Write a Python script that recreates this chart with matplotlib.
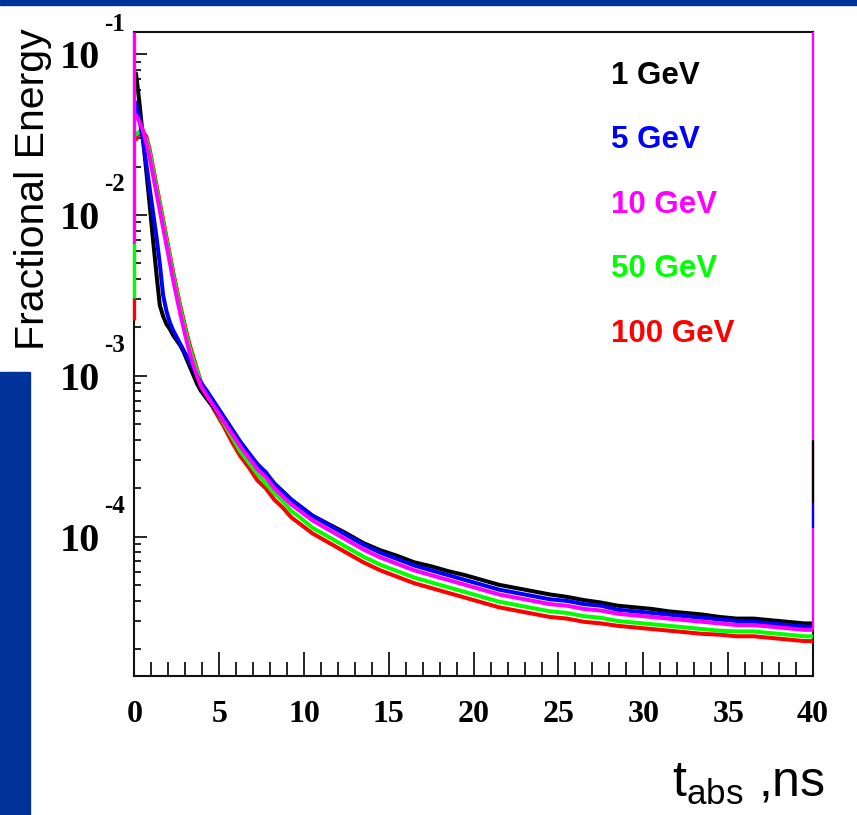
# Fractional energy vs absorption time, fine-binned histograms for 5 beam energies
import numpy as np
import matplotlib
matplotlib.use("Agg")
import matplotlib.pyplot as plt
from matplotlib.patches import Rectangle
from matplotlib.ticker import FixedLocator, LogLocator, NullFormatter

# ---------- data (log10 of fractional energy, read at bin centres) ----------
# bins: 0.2 ns up to 4 ns, 0.5 ns up to 10 ns, 1 ns up to 40 ns
edges = np.concatenate([np.arange(0, 4.0, 0.2), np.arange(4.0, 10.0, 0.5), np.arange(10, 41, 1.0)])
centres = (edges[:-1] + edges[1:]) / 2

labels = ["1 GeV", "5 GeV", "10 GeV", "50 GeV", "100 GeV"]
colors = ["#000000", "#0000ff", "#ff00ff", "#00ff00", "#ff0000"]

log_1gev = [
    -1.12, -1.30, -1.51, -1.72, -1.93, -2.15, -2.36, -2.56, -2.63, -2.68,
    -2.71, -2.75, -2.78, -2.81, -2.85, -2.90, -2.95, -3.00, -3.05, -3.09,
    -3.14, -3.21, -3.28, -3.35, -3.42, -3.49, -3.55, -3.61, -3.67, -3.72, -3.77, -3.81,
    -3.87, -3.925, -3.98, -4.04, -4.085, -4.12, -4.16, -4.185, -4.215, -4.24,
    -4.27, -4.30, -4.32, -4.34, -4.36, -4.375, -4.395, -4.41, -4.43, -4.44,
    -4.45, -4.465, -4.475, -4.485, -4.50, -4.51, -4.51, -4.52, -4.53, -4.54,
]
log_5gev = [
    -1.30, -1.40, -1.53, -1.68, -1.83, -1.98, -2.13, -2.30, -2.50, -2.60,
    -2.67, -2.72, -2.76, -2.80, -2.84, -2.88, -2.92, -2.96, -3.00, -3.04,
    -3.09, -3.17, -3.25, -3.33, -3.41, -3.48, -3.55, -3.60, -3.67, -3.72, -3.77, -3.81,
    -3.87, -3.93, -3.99, -4.05, -4.10, -4.14, -4.18, -4.21, -4.24, -4.27,
    -4.30, -4.33, -4.35, -4.37, -4.39, -4.40, -4.42, -4.43, -4.455, -4.465,
    -4.475, -4.485, -4.495, -4.505, -4.515, -4.525, -4.53, -4.54, -4.55, -4.56,
]
log_10gev = [
    -1.38, -1.42, -1.47, -1.55, -1.64, -1.75, -1.86, -1.97, -2.08, -2.19,
    -2.30, -2.41, -2.51, -2.61, -2.70, -2.79, -2.87, -2.94, -3.00, -3.06,
    -3.12, -3.20, -3.28, -3.36, -3.44, -3.51, -3.58, -3.63, -3.70, -3.75, -3.80, -3.84,
    -3.90, -3.96, -4.02, -4.08, -4.13, -4.17, -4.21, -4.24, -4.27, -4.30,
    -4.33, -4.36, -4.38, -4.40, -4.42, -4.43, -4.45, -4.46, -4.48, -4.49,
    -4.50, -4.51, -4.52, -4.53, -4.54, -4.55, -4.55, -4.56, -4.57, -4.58,
]
log_50gev = [
    -1.50, -1.48, -1.49, -1.53, -1.61, -1.72, -1.83, -1.94, -2.05, -2.16,
    -2.27, -2.38, -2.48, -2.58, -2.67, -2.76, -2.84, -2.91, -2.97, -3.04,
    -3.11, -3.21, -3.29, -3.38, -3.47, -3.54, -3.61, -3.67, -3.73, -3.78, -3.84, -3.88,
    -3.945, -4.005, -4.065, -4.125, -4.175, -4.215, -4.255, -4.285, -4.315, -4.345,
    -4.375, -4.405, -4.425, -4.445, -4.465, -4.475, -4.495, -4.505, -4.525, -4.535,
    -4.545, -4.555, -4.565, -4.575, -4.585, -4.59, -4.59, -4.60, -4.61, -4.62,
]
log_100gev = [
    -1.53, -1.49, -1.48, -1.51, -1.59, -1.70, -1.81, -1.92, -2.03, -2.14,
    -2.25, -2.36, -2.46, -2.56, -2.65, -2.74, -2.82, -2.89, -2.96, -3.03,
    -3.11, -3.22, -3.31, -3.41, -3.50, -3.57, -3.65, -3.70, -3.77, -3.82, -3.88, -3.92,
    -3.98, -4.04, -4.10, -4.16, -4.21, -4.25, -4.29, -4.32, -4.35, -4.38,
    -4.41, -4.44, -4.46, -4.48, -4.50, -4.51, -4.53, -4.54, -4.555, -4.565,
    -4.575, -4.585, -4.595, -4.605, -4.61, -4.62, -4.62, -4.63, -4.64, -4.65,
]
series = [log_1gev, log_5gev, log_10gev, log_50gev, log_100gev]

# visible vertical edge pieces of the histograms (log10 low, log10 high)
left_edge_10gev = (-2.174, -0.862)
left_edge_50gev = (-2.516, -2.174)
left_edge_100gev = (-2.653, -2.516)
right_edge_10gev = (-4.58, -0.862)
right_edge_5gev = (-3.946, -3.791)
right_edge_1gev = (-3.791, -3.399)

Y_MIN, Y_MAX = 10 ** -4.867, 10 ** -0.862
PX = 0.72  # points per pixel at dpi 100
SERIF = ["Liberation Serif", "DejaVu Serif"]
SANS = ["Liberation Sans", "DejaVu Sans"]

fig = plt.figure(figsize=(8.57, 8.15), dpi=100)
fig.patch.set_facecolor("white")

# slide decoration
fig.patches.append(Rectangle((0, 1 - 5 / 815), 1, 5 / 815, transform=fig.transFigure,
                             color="#003399", zorder=0))
fig.patches.append(Rectangle((0, 0), 30 / 857, 1 - 372 / 815, transform=fig.transFigure,
                             color="#003399", zorder=0))

ax = fig.add_axes([134.3 / 857, 139 / 815, (813 - 134.3) / 857, (676 - 32) / 815])
ax.set_yscale("log")
ax.set_xlim(0, 40)
ax.set_ylim(Y_MIN, Y_MAX)

# draw order (bottom to top): red, green, black, blue, magenta
for k, i in enumerate([4, 3, 0, 1, 2]):
    vals = 10 ** np.array(series[i])
    x = np.concatenate([[edges[0]], centres, [edges[-1]]])
    y = np.concatenate([[vals[0]], vals, [vals[-1]]])
    ax.plot(x, y, color=colors[i], lw=2.9, solid_joinstyle="round", solid_capstyle="butt",
            zorder=3 + k * 0.1)

for (lo, hi), c in [(left_edge_100gev, colors[4]), (left_edge_50gev, colors[3]), (left_edge_10gev, colors[2])]:
    ax.vlines(0, 10 ** lo, 10 ** hi, color=c, lw=2.4, clip_on=False, zorder=5)
for (lo, hi), c in [(right_edge_10gev, colors[2]), (right_edge_5gev, colors[1]), (right_edge_1gev, colors[0])]:
    ax.vlines(40, 10 ** lo, 10 ** hi, color=c, lw=1.6, clip_on=False, zorder=5)

for s in ax.spines.values():
    s.set_linewidth(1.5)
    s.set_color("#111111")

# ticks, ROOT style: inward
ax.xaxis.set_major_locator(FixedLocator(range(0, 41, 5)))
ax.xaxis.set_minor_locator(FixedLocator(range(0, 41, 1)))
ax.yaxis.set_minor_locator(LogLocator(base=10, subs=np.arange(2, 10), numticks=20))
ax.yaxis.set_minor_formatter(NullFormatter())
ax.tick_params(axis="x", which="major", direction="in", length=24 * PX, width=1.2, pad=17,
               labelsize=23)
ax.tick_params(axis="x", which="minor", direction="in", length=14 * PX, width=1.2)
ax.tick_params(axis="y", which="major", direction="in", length=13 * PX, width=1.2, pad=25,
               labelsize=29)
ax.tick_params(axis="y", which="minor", direction="in", length=7 * PX, width=1.2)
ax.set_xticklabels([str(v) for v in range(0, 41, 5)])

decades = [1e-4, 1e-3, 1e-2, 1e-1]
exponents = ["-4", "-3", "-2", "-1"]
ax.set_yticks(decades)
ax.set_yticklabels(["10"] * len(decades))
for lab in ax.get_xticklabels() + ax.get_yticklabels():
    lab.set_fontfamily(SERIF)
    lab.set_fontweight("bold")
for d, e in zip(decades, exponents):
    ax.annotate(e, xy=(0, d), xycoords=("axes fraction", "data"), xytext=(-20 * PX, 30 * PX),
                textcoords="offset points", ha="center", va="center", fontsize=18,
                fontweight="bold", family=SERIF, annotation_clip=False)

# energy labels in the top right
label_y = [76, 140, 205, 269, 334]
for lab, c, y in zip(labels, colors, label_y):
    fig.text(611 / 857, 1 - y / 815, lab, color=c, fontsize=22.5, fontweight="bold",
             family=SANS, ha="left", va="center")

fig.text(33 / 857, 1 - 189 / 815, "Fractional Energy", rotation=90, fontsize=29.5,
         family=SANS, ha="center", va="center")
fig.text(672 / 857, 1 - 797 / 815, r"$\mathregular{t_{abs}}$ ,ns", fontsize=36,
         family=SANS, ha="left", va="baseline")

fig.savefig("out.png", dpi=100, facecolor="white")
